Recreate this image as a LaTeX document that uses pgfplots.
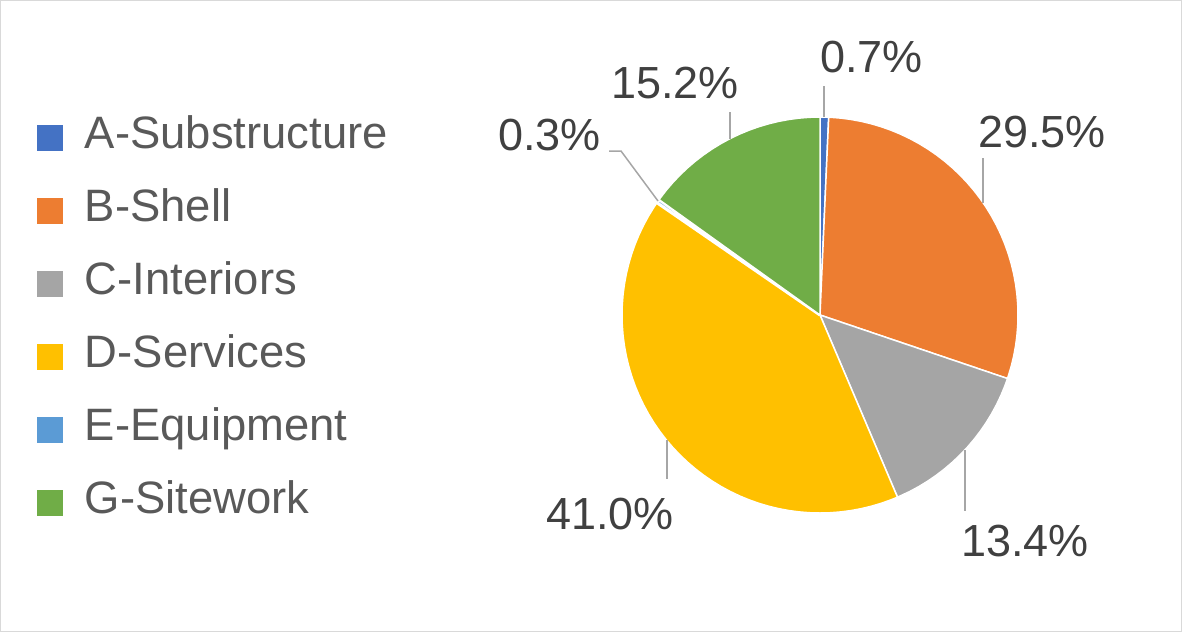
\documentclass[border=0pt]{standalone}
\usepackage{pgfplots}
\pgfplotsset{compat=1.18}
\usepgfplotslibrary{polar}
\usepackage{fontspec}
\setmainfont{Liberation Sans}
\definecolor{cA}{HTML}{4472C4}
\definecolor{cB}{HTML}{ED7D31}
\definecolor{cC}{HTML}{A5A5A5}
\definecolor{cD}{HTML}{FFC000}
\definecolor{cE}{HTML}{5B9BD5}
\definecolor{cG}{HTML}{70AD47}
\definecolor{lgtext}{HTML}{595959}
\definecolor{lbtext}{HTML}{404040}
\definecolor{leader}{HTML}{A6A6A6}
\definecolor{frame}{HTML}{D9D9D9}
\newcommand\lbl{\fontsize{22.5pt}{27pt}\selectfont}
\newcommand\lgf{\fontsize{22.7pt}{27pt}\selectfont}
\begin{document}
\begin{tikzpicture}[x=0.5pt,y=-0.5pt]
\path[use as bounding box] (0,0) rectangle (1182,632);
\draw[color=frame, line width=0.6pt] (0.6,0.6) rectangle (1181.4,631.4);
% Shares (percent): A 0.7, B 29.5, C 13.4, D 41.0, E 0.3, G 15.2
% slices run clockwise from 12 o'clock; angle = 90 - 3.6 * cumulative percent
\begin{polaraxis}[
  at={(410pt,-157.5pt)}, anchor=center,
  scale only axis, width=198pt, height=198pt,
  hide axis, ymin=0, ymax=1, xmin=0, xmax=360,
  clip=false,
  every axis plot/.append style={line join=round, draw=white, line width=0.75pt, mark=none},
  legend image code/.code={\fill[#1,draw=none] (0pt,-7pt) rectangle (13pt,6pt);},
  legend cell align=left,
  legend style={draw=none, fill=none, inner sep=0pt, outer sep=0pt,
    at={(axis description cs:-1.4773,1.006)}, anchor=north west,
    font=\lgf, text=lgtext, row sep=14.5pt,
    nodes={inner sep=0pt, text height=17pt, text depth=5pt},
    /tikz/every odd column/.append style={column sep=11pt}},
]
\addplot[fill=cA] coordinates {(0,0) (87.48,1) (88.74,1) (90,1) (0,0)};
\addlegendentry{A-Substructure}
\addplot[fill=cB] coordinates {(0,0) (-18.72,1) (-15,1) (-12,1) (-9,1) (-6,1) (-3,1) (0,1) (3,1) (6,1) (9,1) (12,1) (15,1) (18,1) (21,1) (24,1) (27,1) (30,1) (33,1) (36,1) (39,1) (42,1) (45,1) (48,1) (51,1) (54,1) (57,1) (60,1) (63,1) (66,1) (69,1) (72,1) (75,1) (78,1) (81,1) (84,1) (87,1) (87.48,1) (0,0)};
\addlegendentry{B-Shell}
\addplot[fill=cC] coordinates {(0,0) (-66.96,1) (-63,1) (-60,1) (-57,1) (-54,1) (-51,1) (-48,1) (-45,1) (-42,1) (-39,1) (-36,1) (-33,1) (-30,1) (-27,1) (-24,1) (-21,1) (-18.72,1) (0,0)};
\addlegendentry{C-Interiors}
\addplot[fill=cD] coordinates {(0,0) (-214.56,1) (-213,1) (-210,1) (-207,1) (-204,1) (-201,1) (-198,1) (-195,1) (-192,1) (-189,1) (-186,1) (-183,1) (-180,1) (-177,1) (-174,1) (-171,1) (-168,1) (-165,1) (-162,1) (-159,1) (-156,1) (-153,1) (-150,1) (-147,1) (-144,1) (-141,1) (-138,1) (-135,1) (-132,1) (-129,1) (-126,1) (-123,1) (-120,1) (-117,1) (-114,1) (-111,1) (-108,1) (-105,1) (-102,1) (-99,1) (-96,1) (-93,1) (-90,1) (-87,1) (-84,1) (-81,1) (-78,1) (-75,1) (-72,1) (-69,1) (-66.96,1) (0,0)};
\addlegendentry{D-Services}
\addplot[fill=cE, line width=1.5pt] coordinates {(0,0) (144.36,1) (144.9,1) (145.44,1) (0,0)};
\addlegendentry{E-Equipment}
\addplot[fill=cG] coordinates {(0,0) (90,1) (93,1) (96,1) (99,1) (102,1) (105,1) (108,1) (111,1) (114,1) (117,1) (120,1) (123,1) (126,1) (129,1) (132,1) (135,1) (138,1) (141,1) (144,1) (144.36,1) (0,0)};
\addlegendentry{G-Sitework}
\end{polaraxis}
% leader lines
\begin{scope}[draw=leader, line width=0.75pt]
\draw (824,117) -- (824,86);
\draw (983,203) -- (983,158);
\draw (965,450) -- (965,511);
\draw (667,440) -- (667,479);
\draw (658,201) -- (621,151) -- (609,151);
\draw (730,139) -- (730,112);
\end{scope}
% data labels
\begin{scope}[every node/.style={font=\lbl, text=lbtext, inner sep=0pt}]
\node[anchor=base west] at (820,72) {0.7\%};
\node[anchor=base west] at (978,147) {29.5\%};
\node[anchor=base east] at (1089,556) {13.4\%};
\node[anchor=base east] at (674,529) {41.0\%};
\node[anchor=base east] at (601,150) {0.3\%};
\node[anchor=base east] at (739,98) {15.2\%};
\end{scope}
\end{tikzpicture}
\end{document}
